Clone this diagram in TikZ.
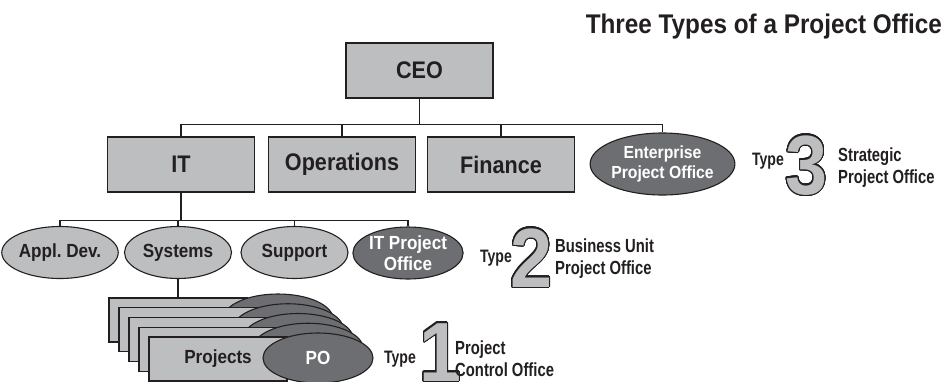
\documentclass[tikz,border=0pt]{standalone}
\usepackage{fontspec}
\setmainfont{Liberation Sans}[FakeStretch=0.9]
\newfontfamily\narrowfont{Liberation Sans}[FakeStretch=0.78]
\usepackage[copies]{contour}
\contourlength{1.1pt}
\contournumber{40}
\usepackage{tikz}
\usetikzlibrary{arrows.meta,positioning,shapes.geometric,calc}
\usepackage{xcolor}
\definecolor{orgline}{HTML}{231F20}
\definecolor{orggray}{HTML}{BCBEC0}
\definecolor{pogray}{HTML}{6D6E71}

\begin{document}
\begin{tikzpicture}[
  x=1pt, y=-1pt,
  unitbox/.style={
    draw=orgline,
    fill=orggray,
    line width=1.3pt,
    minimum width=147pt,
    minimum height=55pt,
    inner sep=0pt,
    text=orgline,
    font=\fontsize{24pt}{26pt}\selectfont\bfseries
  },
  unitell/.style={
    ellipse,
    draw=orgline,
    fill=orggray,
    line width=1.1pt,
    minimum width=107pt,
    minimum height=52pt,
    inner sep=0pt,
    text=orgline,
    font=\fontsize{19pt}{21pt}\selectfont\bfseries
  },
  poell/.style={
    unitell,
    fill=pogray,
    text=white,
    align=center
  },
  projbox/.style={
    draw=orgline,
    fill=orggray,
    line width=1.1pt,
    minimum width=138pt,
    minimum height=44pt,
    inner sep=0pt,
    text=orgline,
    font=\fontsize{19pt}{21pt}\selectfont\bfseries
  },
  link/.style={draw=orgline, line width=1.3pt},
  typelabel/.style={font=\narrowfont\fontsize{18pt}{20pt}\selectfont\bfseries, text=orgline, inner sep=0pt},
  typedigit/.style={font=\fontsize{84pt}{84pt}\selectfont\bfseries, inner sep=0pt},
  kindlabel/.style={font=\narrowfont\fontsize{19pt}{22pt}\selectfont\bfseries, text=orgline, align=left, inner sep=0pt}
]
  \useasboundingbox (0,0) rectangle (949,381);

  % ---------------------------------------------------------------------------
  % TITLE
  % ---------------------------------------------------------------------------
  \node[anchor=base east, inner sep=0pt, text=orgline, font=\fontsize{27pt}{29pt}\selectfont\bfseries] (title) at (942,33) {Three Types of a Project Office};

  % ---------------------------------------------------------------------------
  % TOP LEVEL
  % ---------------------------------------------------------------------------
  \node[unitbox] (ceo) at (419.5,70.5) {CEO};
  \node[unitbox] (it) at (181,164.5) {IT};
  \node[unitbox] (ops) at (342,164.5) {Operations};
  \node[unitbox] (fin) at (501,164.5) {Finance};
  \node[poell, minimum width=139pt, minimum height=62pt, font=\fontsize{17.5pt}{20pt}\selectfont\bfseries] (epo) at (662.5,164) {Enterprise\\Project Office};

  \foreach \unit in {it,ops,fin,epo}
    \draw[link] (ceo.south) -- ++(0,26) -| (\unit.north);

  % ---------------------------------------------------------------------------
  % IT DEPARTMENT
  % ---------------------------------------------------------------------------
  \node[unitell, minimum width=116pt] (appl) at (60,252.5) {Appl.\ Dev.};
  \node[unitell] (sys) at (178,252.5) {Systems};
  \node[unitell] (sup) at (294.5,252.5) {Support};
  \node[poell, minimum width=104pt] (itpo) at (408,253) {IT Project\\Office};

  \foreach \unit in {appl,sys,sup,itpo}
    \draw[link] (it.south) -- ++(0,28) -| (\unit.north);

  % ---------------------------------------------------------------------------
  % PROJECTS WITH THEIR PROJECT OFFICES
  % ---------------------------------------------------------------------------
  \foreach \i in {0,...,3} {
    \node[projbox] (proj\i) at (178+10*\i,320+9.75*\i) {};
    \node[poell, minimum width=110pt, minimum height=50pt] (po\i) at ($(proj\i)+(100,-1)$) {};
  }
  \node[projbox] (proj4) at (218,359) {Projects};
  \node[poell, minimum width=110pt, minimum height=50pt] (po4) at ($(proj4)+(100,-1)$) {PO};

  \draw[link] (sys.south) -- (proj0.north);

  % ---------------------------------------------------------------------------
  % TYPE LABELS
  % ---------------------------------------------------------------------------
  \node[typelabel, anchor=base] (type3) at (768,165) {Type};
  \node[typedigit, anchor=base west] (digit3) at (785,194) {\color{orggray}\contour{orgline}{3}};
  \node[kindlabel, anchor=west] (kind3) at (838,168) {Strategic\\Project Office};

  \node[typelabel, anchor=base] (type2) at (496,262) {Type};
  \node[typedigit, anchor=base west] (digit2) at (510,287) {\color{orggray}\contour{orgline}{2}};
  \node[kindlabel, anchor=west] (kind2) at (555,259) {Business Unit\\Project Office};

  \node[typelabel, anchor=base] (type1) at (400,363) {Type};
  \node[typedigit, anchor=base west] (digit1) at (419,381) {\color{orggray}\contour{orgline}{1}};
  \node[kindlabel, anchor=west] (kind1) at (455,359) {Project\\Control Office};

\end{tikzpicture}
\end{document}
